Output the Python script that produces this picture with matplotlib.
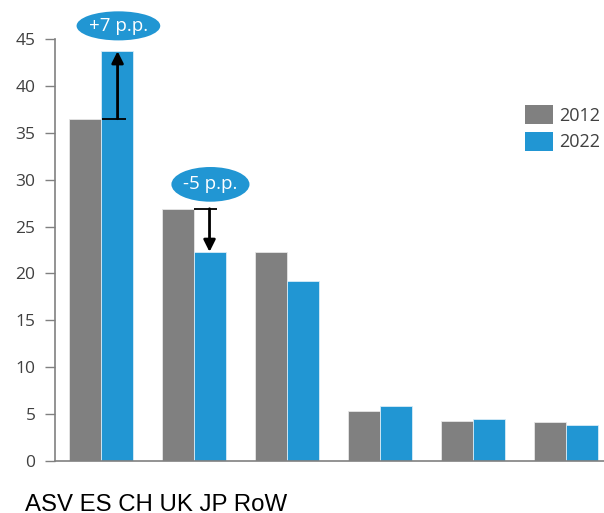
import matplotlib
matplotlib.use("Agg")
import matplotlib.pyplot as plt
from matplotlib.patches import Ellipse, Patch

# Market shares by region, 2012 vs 2022 (%)
regions = ["ASV", "ES", "CH", "UK", "JP", "RoW"]
share_2012 = [36.5, 26.9, 22.3, 5.3, 4.3, 4.2]
share_2022 = [43.7, 22.3, 19.2, 5.9, 4.5, 3.8]
years = ["2012", "2022"]
yticks = [0, 5, 10, 15, 20, 25, 30, 35, 40, 45]

GREY = "#808080"
BLUE = "#2196D3"
TXT = "#404040"

W, H = 604, 513
fig = plt.figure(figsize=(W / 100, H / 100), dpi=100)
ax = fig.add_axes([55 / W, (H - 461) / H, (W - 55) / W, (461 - 39) / H])

x = list(range(len(regions)))
bw = 0.344
ax.bar([i - bw / 2 for i in x], share_2012, width=bw, color=GREY,
       edgecolor="#e6e6e6", linewidth=0.6, zorder=2)
ax.bar([i + bw / 2 for i in x], share_2022, width=bw, color=BLUE,
       edgecolor="#d8ecf7", linewidth=0.6, zorder=2)

ax.set_xlim(-0.495, 5.41)
ax.set_ylim(0, 45)
ax.set_yticks(yticks)
ax.set_xticks([])
for s in ["top", "right"]:
    ax.spines[s].set_visible(False)
for s in ["left", "bottom"]:
    ax.spines[s].set_color(GREY)
    ax.spines[s].set_linewidth(1.2)
ax.tick_params(axis="y", length=7, width=1.0, color=GREY, labelcolor=TXT,
               labelsize=12.5, pad=7)
for lab in ax.get_yticklabels():
    lab.set_fontfamily("Open Sans")


def change_marker(i, x_arrow, x_line, ell_xy, ell_w, ell_h):
    old, new = share_2012[i], share_2022[i]
    ax.plot(x_line, [old, old], color="black", lw=1.3, zorder=4,
            solid_capstyle="butt")
    ax.annotate("", xy=(x_arrow, new), xytext=(x_arrow, old),
                arrowprops=dict(arrowstyle="-|>,head_length=0.7,head_width=0.35",
                                color="black", lw=2.0, shrinkA=0, shrinkB=0),
                zorder=5)
    ax.add_patch(Ellipse(ell_xy, ell_w, ell_h, facecolor=BLUE,
                         edgecolor="none", clip_on=False, zorder=5))
    d = round(new - old)
    label = f"+{d} p.p." if d > 0 else f"-{abs(d)} p.p."
    ax.text(ell_xy[0], ell_xy[1], label, color="white", ha="center",
            va="center", fontsize=13.5, family="Open Sans", zorder=6,
            clip_on=False)


change_marker(0, 0.178, [0.01, 0.27], (0.187, 46.4), 0.90, 3.1)
change_marker(1, 1.167, [1.005, 1.25], (1.177, 29.5), 0.84, 3.7)

handles = [Patch(facecolor=GREY, edgecolor="none"),
           Patch(facecolor=BLUE, edgecolor="none")]
leg = ax.legend(handles, years, loc="upper left",
                bbox_to_anchor=(525 / W, (H - 105) / H),
                bbox_transform=fig.transFigure, frameon=False,
                borderpad=0, borderaxespad=0, handlelength=1.55,
                handleheight=1.25, handletextpad=0.35, labelspacing=0.4,
                prop={"family": "Open Sans", "size": 13})
for t in leg.get_texts():
    t.set_color(TXT)

fig.text(25 / W, (H - 505) / H, " ".join(regions),
         ha="left", va="center", fontsize=17.3, family="Liberation Sans",
         color="black")

fig.savefig("out.png", dpi=100, facecolor="white")
